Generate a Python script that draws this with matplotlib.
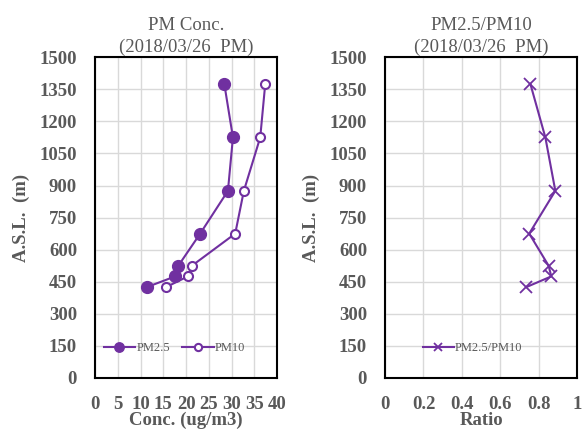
import numpy as np
import matplotlib.pyplot as plt

plt.rcParams['font.family'] = ['Liberation Serif', 'DejaVu Serif']

# values
altitude = [1375, 1125, 875, 675, 525, 475, 425]
pm25 = [28.4, 30.3, 29.2, 23.1, 18.3, 17.6, 11.4]
pm10 = [37.4, 36.3, 32.7, 30.8, 21.3, 20.4, 15.6]
ratio = [0.757, 0.835, 0.887, 0.751, 0.852, 0.866, 0.736]

conc_ticks = np.arange(0, 41, 5)
ratio_ticks = [0, 0.2, 0.4, 0.6, 0.8, 1]
ratio_labels = ['0', '0.2', '0.4', '0.6', '0.8', '1']
alt_ticks = np.arange(0, 1501, 150)

purple = '#7030A0'
grey = '#595959'

fig = plt.figure(figsize=(5.87, 4.30), dpi=100)
ax1 = fig.add_axes([0.162, 0.121, 0.310, 0.746])
ax2 = fig.add_axes([0.656, 0.121, 0.327, 0.746])


def style(ax):
    ax.set_ylim(0, 1500)
    ax.set_yticks(alt_ticks)
    ax.grid(True, color='#d9d9d9', linewidth=1.0)
    ax.set_axisbelow(True)
    for s in ax.spines.values():
        s.set_color('black')
        s.set_linewidth(1.5)
    ax.tick_params(axis='y', length=0, labelsize=13.5, labelcolor=grey, pad=13)
    ax.tick_params(axis='x', length=0, labelsize=13.5, labelcolor=grey, pad=13)
    for lab in ax.get_xticklabels() + ax.get_yticklabels():
        lab.set_fontweight('bold')
    ax.set_ylabel('A.S.L.  (m)', fontsize=13.5, fontweight='bold', color=grey, labelpad=7)


ax1.plot(pm25, altitude, '-o', color=purple, lw=1.5, ms=8.5, label='PM2.5')
ax1.plot(pm10, altitude, '-o', color=purple, lw=1.5, ms=6.5, mfc='white',
         mew=1.5, label='PM10')
ax1.set_xlim(0, 40)
ax1.set_xticks(conc_ticks)
style(ax1)
ax1.set_xlabel('Conc. (ug/m3)', fontsize=13.5, fontweight='bold', color=grey, labelpad=-1)
ax1.set_title('PM Conc.\n(2018/03/26  PM)', fontsize=13.5, color=grey, pad=4, linespacing=1.3)
ax1.legend(loc='center left', bbox_to_anchor=(0.0, 0.093), ncol=2, frameon=False,
           fontsize=9, labelcolor=grey, handlelength=2.5, handletextpad=0.1,
           columnspacing=1.0, borderaxespad=0.3, markerscale=0.8)

ax2.plot(ratio, altitude, '-x', color=purple, lw=1.5, ms=9, mew=1.3, label='PM2.5/PM10')
ax2.set_xlim(0, 1)
ax2.set_xticks(ratio_ticks)
ax2.set_xticklabels(ratio_labels)
style(ax2)
ax2.set_xlabel('Ratio', fontsize=13.5, fontweight='bold', color=grey, labelpad=-1)
ax2.set_title('PM2.5/PM10\n(2018/03/26  PM)', fontsize=13.5, color=grey, pad=4, linespacing=1.3)
ax2.legend(loc='center left', bbox_to_anchor=(0.15, 0.093), frameon=False,
           fontsize=9, labelcolor=grey, handlelength=2.5, handletextpad=0.1,
           borderaxespad=0.3, markerscale=0.7)

fig.savefig('out.png', dpi=100)
